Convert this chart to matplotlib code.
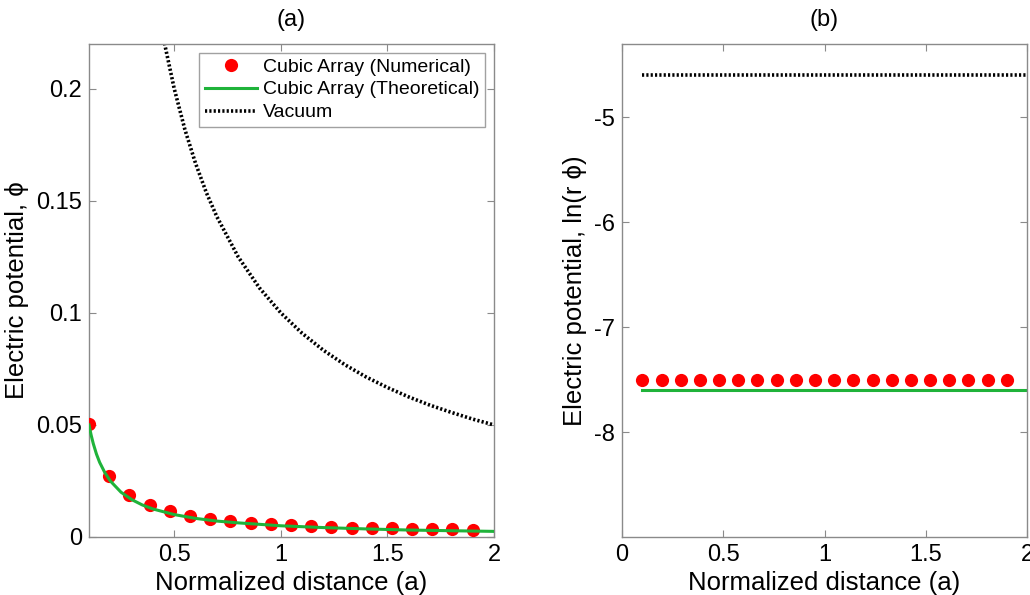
import numpy as np
import matplotlib
matplotlib.use('Agg')
import matplotlib.pyplot as plt

plt.rcParams['font.family'] = ['Liberation Sans', 'DejaVu Sans']
plt.rcParams['axes.unicode_minus'] = False

# Datos
# (a) potencial
x_num = [0.1, 0.195, 0.289, 0.384, 0.479, 0.574, 0.668, 0.763, 0.858, 0.953,
         1.047, 1.142, 1.237, 1.332, 1.426, 1.521, 1.616, 1.711, 1.805, 1.9]
phi_num = [0.0505, 0.027, 0.0186, 0.0142, 0.0115, 0.0095, 0.0081, 0.0073, 0.0064, 0.0057,
           0.0052, 0.0048, 0.0044, 0.0041, 0.0040, 0.0038, 0.0037, 0.0035, 0.0034, 0.0033]

x_theo = [0.1, 0.11, 0.12, 0.135, 0.15, 0.175, 0.2, 0.25, 0.3, 0.35, 0.4, 0.5, 0.6,
          0.7, 0.8, 1.0, 1.2, 1.4, 1.6, 1.8, 2.0]
phi_theo = [0.05, 0.0455, 0.0417, 0.037, 0.0333, 0.0286, 0.025, 0.02, 0.0167, 0.0143,
            0.0125, 0.01, 0.0083, 0.0071, 0.0063, 0.005, 0.0042, 0.0036, 0.0031, 0.0028, 0.0025]

x_vac = [0.45, 0.5, 0.55, 0.6, 0.65, 0.7, 0.8, 0.9, 1.0, 1.1, 1.2, 1.3, 1.4,
         1.5, 1.6, 1.7, 1.8, 1.9, 2.0]
phi_vac = [0.2222, 0.2, 0.1818, 0.1667, 0.1538, 0.1429, 0.125, 0.1111, 0.1, 0.0909,
           0.0833, 0.0769, 0.0714, 0.0667, 0.0625, 0.0588, 0.0556, 0.0526, 0.05]

# (b) ln(r phi)
ln_num = [-7.5] * 20
x_line = [0.1, 2.0]
ln_theo = [-7.6, -7.6]
ln_vac = [-4.6, -4.6]

green = '#1fb33a'
spine_col = '#8a8a8a'
dots = (0, (0.6, 0.6))

fig = plt.figure(figsize=(10.3, 5.95), dpi=100)
ax1 = fig.add_axes([0.0864, 0.0975, 0.3932, 0.8286])
ax2 = fig.add_axes([0.6039, 0.0975, 0.3932, 0.8286])

# Panel (a)
ax1.plot(x_num, phi_num, 'o', color='red', markersize=9.5, markeredgewidth=0,
         label='Cubic Array (Numerical)', zorder=3)
ax1.plot(x_theo, phi_theo, '-', color=green, linewidth=2.2,
         label='Cubic Array (Theoretical)', zorder=4)
ax1.plot(x_vac, phi_vac, linestyle=dots, color='black', linewidth=2.6, label='Vacuum')
ax1.set_xlim(0.1, 2)
ax1.set_ylim(0, 0.22)
ax1.set_xticks([0.5, 1, 1.5, 2])
ax1.set_xticklabels(['0.5', '1', '1.5', '2'])
ax1.set_yticks([0, 0.05, 0.1, 0.15, 0.2])
ax1.set_yticklabels(['0', '0.05', '0.1', '0.15', '0.2'])
ax1.set_title('(a)', fontsize=17, pad=13)
ax1.set_xlabel('Normalized distance (a)', fontsize=18.5, labelpad=4)
ax1.set_ylabel('Electric potential, ϕ', fontsize=18.5, labelpad=5)
leg = ax1.legend(loc='upper right', fontsize=14, frameon=True, fancybox=False,
                 handlelength=2.7, handletextpad=0.3, borderpad=0.3,
                 labelspacing=0.3, borderaxespad=0.45, handleheight=0.6)
leg.get_frame().set_edgecolor(spine_col)
leg.get_frame().set_linewidth(1.0)

# Panel (b)
ax2.plot(x_num, ln_num, 'o', color='red', markersize=9.5, markeredgewidth=0, zorder=3)
ax2.plot(x_line, ln_theo, '-', color=green, linewidth=2.2)
ax2.plot(x_line, ln_vac, linestyle=dots, color='black', linewidth=2.6)
ax2.set_xlim(0, 2)
ax2.set_ylim(-9, -4.3)
ax2.set_xticks([0, 0.5, 1, 1.5, 2])
ax2.set_xticklabels(['0', '0.5', '1', '1.5', '2'])
ax2.set_yticks([-8, -7, -6, -5])
ax2.set_title('(b)', fontsize=17, pad=13)
ax2.set_xlabel('Normalized distance (a)', fontsize=18.5, labelpad=4)
ax2.set_ylabel('Electric potential, ln(r ϕ)', fontsize=18.5, labelpad=5)

for a in (ax1, ax2):
    for s in a.spines.values():
        s.set_color(spine_col)
        s.set_linewidth(1.0)
    a.tick_params(direction='in', top=True, right=True, length=5,
                  color=spine_col, labelsize=17, pad=5)

fig.savefig('out.png', dpi=100)
